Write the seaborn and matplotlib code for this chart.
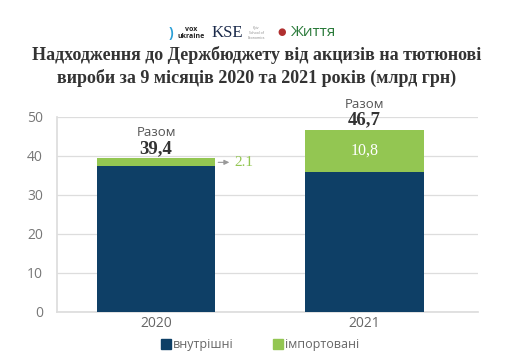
import matplotlib
matplotlib.use("Agg")
import matplotlib.pyplot as plt
import seaborn as sns
import pandas as pd
from matplotlib.patches import Patch

years = ["2020", "2021"]
domestic = [37.3, 35.9]
imported = [2.1, 10.8]
totals = [39.4, 46.7]
domestic_labels = ["37,3", "35,9"]
imported_labels = ["2.1", "10,8"]
total_labels = ["39,4", "46,7"]
yticks = [0, 10, 20, 30, 40, 50]

BLUE = "#0e3f66"
GREEN = "#93c652"

sns.set_theme(style="white")
plt.rcParams["font.family"] = ["Open Sans", "DejaVu Sans"]

df = pd.DataFrame({"year": years, "domestic": domestic, "imported": imported, "total": totals})

fig = plt.figure(figsize=(5.13, 3.63), dpi=100)
ax = fig.add_axes([0.111, 0.1405, 0.821, 0.5375])

sns.barplot(data=df, x="year", y="total", color=GREEN, width=0.57, saturation=1, ax=ax,
            zorder=3, linewidth=0)
sns.barplot(data=df, x="year", y="domestic", color=BLUE, width=0.57, saturation=1, ax=ax,
            zorder=4, linewidth=0)

ax.set_xlim(-0.476, 1.546)
ax.set_ylim(0, 50)
ax.set_yticks(yticks)
ax.set_yticklabels([str(t) for t in yticks], color="#777777", fontsize=10)
ax.tick_params(axis="x", colors="#666666", labelsize=10, length=0, pad=3)
ax.tick_params(axis="y", length=0, pad=10)
ax.set_xlabel("")
ax.set_ylabel("")
ax.grid(axis="y", color="#dddddd", linewidth=0.9, zorder=0)
for s in ["top", "right"]:
    ax.spines[s].set_visible(False)
ax.spines["left"].set_color("#dddddd")
ax.spines["bottom"].set_color("#dddddd")

serif = ["Liberation Serif", "DejaVu Serif"]
for i in range(len(years)):
    ax.text(i, domestic[i] - 4.3, domestic_labels[i], ha="center", va="center",
            color="white", fontsize=11.5, family=serif)
    ax.text(i, totals[i] + 4.9, "Разом", ha="center", va="bottom", color="#555555", fontsize=9.5)
    ax.text(i, totals[i] + 0.3, total_labels[i], ha="center", va="bottom", color="#333333",
            fontsize=13.5, fontweight="bold", family=serif)

ax.text(1, domestic[1] + imported[1] / 2, imported_labels[1], ha="center", va="center",
        color="white", fontsize=11.5, family=serif)
ymid = domestic[0] + imported[0] / 2
ax.annotate("", xy=(0.365, ymid), xytext=(0.285, ymid),
            arrowprops=dict(arrowstyle="-|>,head_length=0.25,head_width=0.12", color="#999999", lw=0.8))
ax.text(0.375, ymid, imported_labels[0], ha="left", va="center", color=GREEN,
        fontsize=11, family=serif)

handles = [Patch(color=BLUE, label="внутрішні"), Patch(color=GREEN, label="імпортовані")]
fig.legend(handles=handles, loc="center", bbox_to_anchor=(0.507, 0.05), ncol=2, frameon=False,
           fontsize=9, handlelength=0.8, handleheight=0.8, handletextpad=0.15, columnspacing=3.2,
           labelcolor="#666666")

fig.text(0.5, 0.817, "Надходження до Держбюджету від акцизів на тютюнові\nвироби за 9 місяців 2020 та 2021 років (млрд грн)",
         ha="center", va="center", fontsize=13, fontweight="bold", color="#333333",
         family=serif, linespacing=1.3)

# logos as text
ly = 1 - 33 / 363
fig.text(171 / 513, ly, ")", color="#2a9fd6", fontsize=10, fontweight="bold", ha="center", va="center")
fig.text(191 / 513, ly, "vox\nukraine", color="#222222", fontsize=5, fontweight="bold", ha="center",
         va="center", linespacing=0.95)
fig.text(227 / 513, ly, "KSE", color="#1b2a4a", fontsize=12, family=serif, ha="center", va="center")
fig.text(256 / 513, ly, "Kyiv\nSchool of\nEconomics", color="#888888", fontsize=2.5, ha="center", va="center")
fig.text(282 / 513, ly, "●", color="#b03030", fontsize=7, ha="center", va="center")
fig.text(313 / 513, ly, "Життя", color="#2a7a3a", fontsize=11, ha="center", va="center")

fig.savefig("out.png", dpi=100, facecolor="white")
